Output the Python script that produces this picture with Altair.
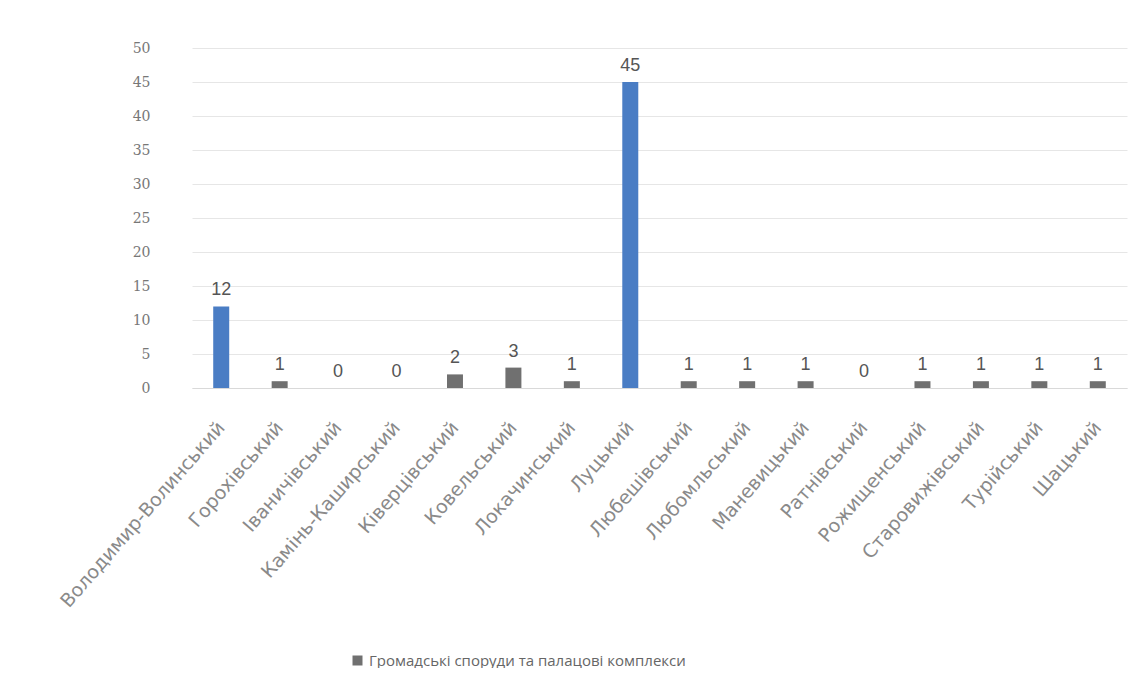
import altair as alt
import pandas as pd

districts = [
    "Володимир-Волинський", "Горохівський", "Іваничівський", "Камінь-Каширський",
    "Ківерцівський", "Ковельський", "Локачинський", "Луцький", "Любешівський",
    "Любомльський", "Маневицький", "Ратнівський", "Рожищенський",
    "Старовижівський", "Турійський", "Шацький",
]
counts = [12, 1, 0, 0, 2, 3, 1, 45, 1, 1, 1, 0, 1, 1, 1, 1]
series_name = "Громадські споруди та палацові комплекси"
y_ticks = list(range(0, 55, 5))

df = pd.DataFrame({"district": districts, "count": counts, "series": series_name})

x_enc = alt.X("district:N", sort=districts, title=None,
              scale=alt.Scale(paddingInner=0.72, paddingOuter=0.36),
              axis=alt.Axis(labelAngle=-49, labelFontSize=19, labelColor="#8a8a8a",
                            labelFont="DejaVu Sans", ticks=False, domainColor="#d9d9d9",
                            labelPadding=36, labelLimit=400))
y_enc = alt.Y("count:Q", title=None,
              scale=alt.Scale(domain=[0, 50]),
              axis=alt.Axis(values=y_ticks, labelFontSize=14, labelColor="#777777",
                            labelFont="DejaVu Serif", domain=False, ticks=False,
                            gridColor="#e6e6e6", labelPadding=42, labelOverlap=False))

bars = alt.Chart(df).mark_bar(size=16).encode(
    x=x_enc,
    y=y_enc,
    color=alt.condition(
        alt.datum["count"] >= 10,
        alt.value("#4a7dc4"),
        alt.Color("series:N", title=None,
                  scale=alt.Scale(range=["#707070"]),
                  legend=alt.Legend(orient="none", legendX=158, legendY=605,
                                    symbolType="square", symbolSize=100,
                                    labelFontSize=15, labelColor="#666666",
                                    labelFont="Open Sans", labelLimit=600)),
    ),
)

labels = alt.Chart(df).mark_text(dy=-16, fontSize=18, color="#555555",
                                 font="Liberation Sans").encode(
    x=x_enc,
    y=y_enc,
    text=alt.Text("count:Q"),
)

chart = (bars + labels).properties(
    width=935, height=340,
    background="white",
    autosize=alt.AutoSizeParams(type="none"),
    padding={"left": 184, "top": 40, "right": 10, "bottom": 280},
).configure_view(strokeWidth=0)

chart.save("out.html", embed_options={"renderer": "svg", "actions": False})
